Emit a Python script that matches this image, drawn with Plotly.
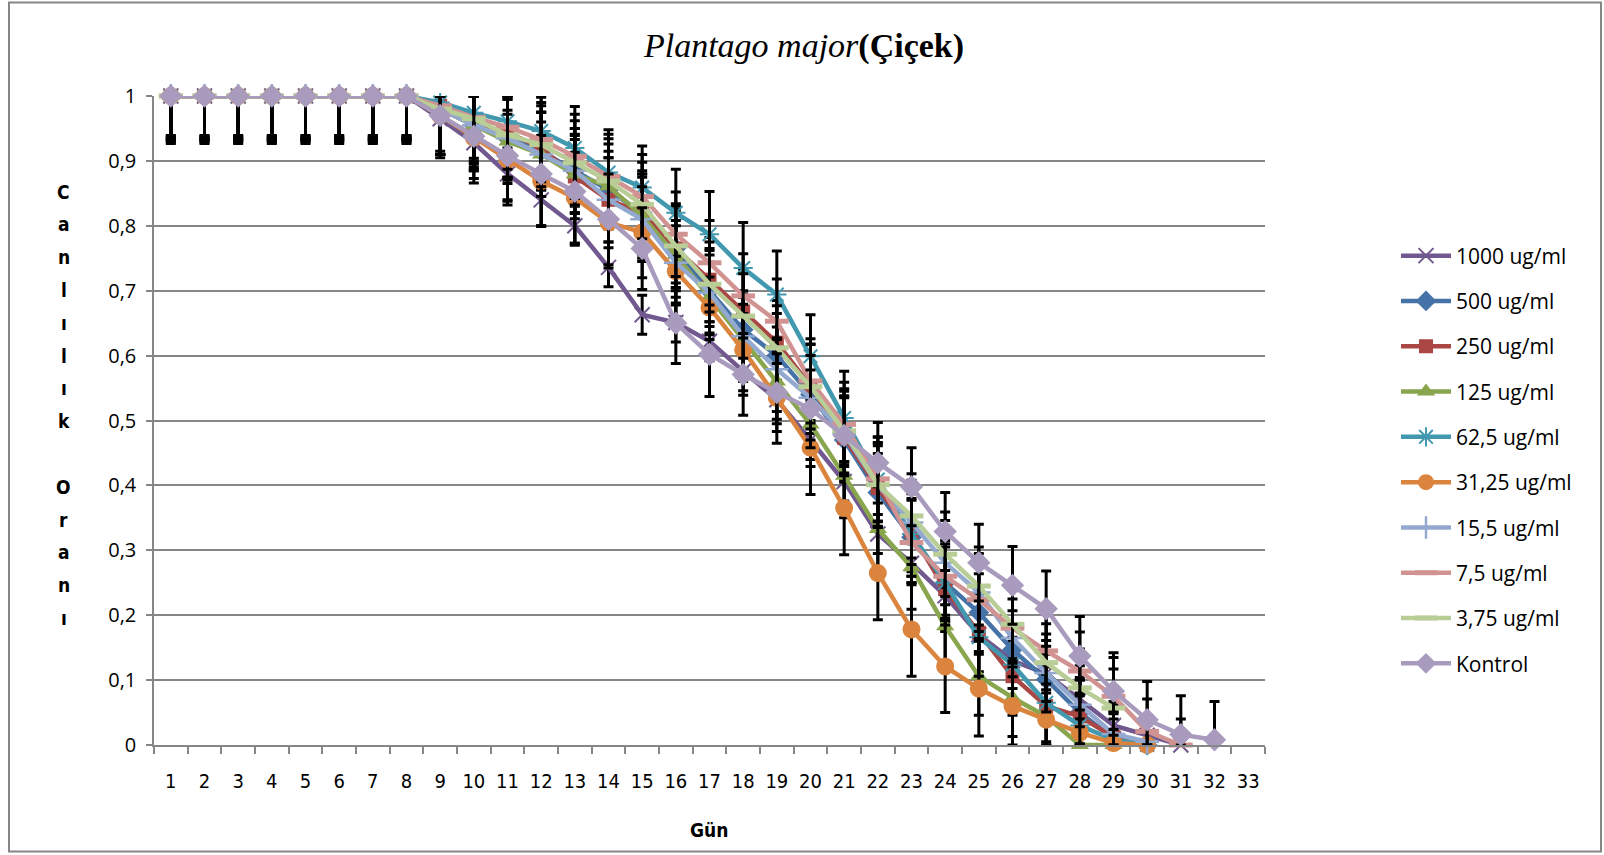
import plotly.graph_objects as go

# ---------------- data ----------------
days = [1, 2, 3, 4, 5, 6, 7, 8, 9, 10, 11, 12, 13, 14, 15, 16, 17, 18, 19, 20,
        21, 22, 23, 24, 25, 26, 27, 28, 29, 30, 31, 32, 33]
x_labels = [str(d) for d in days]

series_names = ["1000 ug/ml", "500 ug/ml", "250 ug/ml", "125 ug/ml", "62,5 ug/ml",
                "31,25 ug/ml", "15,5 ug/ml", "7,5 ug/ml", "3,75 ug/ml", "Kontrol"]

v1000 = [1, 1, 1, 1, 1, 1, 1, 1, 0.965, 0.928, 0.88, 0.84, 0.80, 0.736, 0.663, 0.651,
         0.622, 0.576, 0.532, 0.47, 0.406, 0.325, 0.28, 0.23, 0.17, 0.13, 0.11, 0.07,
         0.03, 0.015, 0.0]
v500 = [1, 1, 1, 1, 1, 1, 1, 1, 0.98, 0.955, 0.935, 0.915, 0.885, 0.855, 0.82, 0.765,
        0.70, 0.64, 0.60, 0.54, 0.47, 0.389, 0.32, 0.25, 0.204, 0.147, 0.101, 0.05,
        0.01, 0.0]
v250 = [1, 1, 1, 1, 1, 1, 1, 1, 0.985, 0.955, 0.944, 0.92, 0.876, 0.84, 0.82, 0.765,
        0.717, 0.668, 0.62, 0.553, 0.473, 0.396, 0.327, 0.24, 0.173, 0.106, 0.06,
        0.044, 0.012, 0.0]
v125 = [1, 1, 1, 1, 1, 1, 1, 1, 0.98, 0.955, 0.93, 0.91, 0.879, 0.861, 0.815, 0.755,
        0.69, 0.625, 0.56, 0.494, 0.415, 0.333, 0.274, 0.183, 0.106, 0.073, 0.044,
        0.0, 0.0]
v62 = [1, 1, 1, 1, 1, 1, 1, 1, 0.99, 0.974, 0.961, 0.946, 0.92, 0.882, 0.859, 0.82,
       0.787, 0.735, 0.694, 0.599, 0.504, 0.409, 0.325, 0.25, 0.166, 0.124, 0.065,
       0.03, 0.008, 0.0]
v31 = [1, 1, 1, 1, 1, 1, 1, 1, 0.97, 0.936, 0.902, 0.869, 0.843, 0.805, 0.79, 0.73,
       0.674, 0.609, 0.535, 0.458, 0.365, 0.265, 0.178, 0.121, 0.087, 0.06, 0.039,
       0.019, 0.003, 0.0]
v15 = [1, 1, 1, 1, 1, 1, 1, 1, 0.98, 0.955, 0.935, 0.91, 0.885, 0.84, 0.81, 0.743,
       0.697, 0.63, 0.579, 0.535, 0.48, 0.40, 0.343, 0.281, 0.235, 0.165, 0.111,
       0.062, 0.017, 0.005]
v7 = [1, 1, 1, 1, 1, 1, 1, 1, 0.985, 0.967, 0.952, 0.933, 0.907, 0.876, 0.845, 0.787,
      0.743, 0.692, 0.653, 0.561, 0.494, 0.41, 0.312, 0.26, 0.224, 0.18, 0.145,
      0.114, 0.075, 0.021, 0.0]
v3 = [1, 1, 1, 1, 1, 1, 1, 1, 0.98, 0.965, 0.94, 0.925, 0.897, 0.869, 0.833, 0.769,
      0.71, 0.661, 0.612, 0.552, 0.484, 0.401, 0.353, 0.294, 0.245, 0.186, 0.127,
      0.088, 0.057]
vK = [1, 1, 1, 1, 1, 1, 1, 1, 0.97, 0.938, 0.908, 0.88, 0.853, 0.81, 0.765, 0.65,
      0.602, 0.571, 0.543, 0.518, 0.477, 0.435, 0.398, 0.329, 0.281, 0.246, 0.21,
      0.137, 0.083, 0.039, 0.016, 0.008]

# standard deviations (error bars)
e1000 = [0.061, 0.061, 0.061, 0.061, 0.061, 0.061, 0.061, 0.061, 0.06, 0.04, 0.04,
         0.04, 0.03, 0.03, 0.03, 0.03, 0.03, 0.03, 0.03, 0.03, 0.03, 0.03, 0.03,
         0.03, 0.03, 0.03, 0.03, 0.03, 0.03, 0.02, 0.02]
e500 = [0.063, 0.063, 0.063, 0.063, 0.063, 0.063, 0.063, 0.063, 0.07, 0.06, 0.06,
        0.06, 0.065, 0.06, 0.065, 0.06, 0.065, 0.06, 0.065, 0.06, 0.065, 0.06, 0.06,
        0.06, 0.06, 0.06, 0.06, 0.05, 0.04, 0.03]
e250 = [0.065, 0.065, 0.065, 0.065, 0.065, 0.065, 0.065, 0.065, 0.075, 0.07, 0.07,
        0.065, 0.065, 0.065, 0.06, 0.065, 0.065, 0.065, 0.065, 0.065, 0.065, 0.065,
        0.06, 0.065, 0.06, 0.06, 0.06, 0.06, 0.05, 0.04]
e125 = [0.067, 0.067, 0.067, 0.067, 0.067, 0.067, 0.067, 0.067, 0.07, 0.07, 0.065,
        0.065, 0.06, 0.065, 0.065, 0.065, 0.065, 0.065, 0.065, 0.065, 0.065, 0.065,
        0.065, 0.06, 0.06, 0.06, 0.05, 0.04, 0.04]
e62 = [0.069, 0.069, 0.069, 0.069, 0.069, 0.069, 0.069, 0.069, 0.075, 0.07, 0.065,
       0.06, 0.064, 0.066, 0.064, 0.067, 0.066, 0.07, 0.067, 0.064, 0.072, 0.065,
       0.065, 0.065, 0.06, 0.06, 0.06, 0.05, 0.04, 0.03]
e31 = [0.071, 0.071, 0.071, 0.071, 0.071, 0.071, 0.071, 0.071, 0.06, 0.07, 0.07,
       0.07, 0.07, 0.07, 0.07, 0.07, 0.07, 0.07, 0.07, 0.072, 0.072, 0.072, 0.072,
       0.071, 0.073, 0.07, 0.07, 0.06, 0.05, 0.04]
e15 = [0.073, 0.073, 0.073, 0.073, 0.073, 0.073, 0.073, 0.073, 0.07, 0.065, 0.065,
       0.065, 0.065, 0.065, 0.065, 0.065, 0.065, 0.065, 0.065, 0.065, 0.065, 0.065,
       0.065, 0.065, 0.06, 0.06, 0.06, 0.06, 0.05, 0.04]
e7 = [0.066, 0.066, 0.066, 0.066, 0.066, 0.066, 0.066, 0.066, 0.075, 0.07, 0.065,
      0.065, 0.065, 0.065, 0.065, 0.065, 0.065, 0.065, 0.065, 0.065, 0.065, 0.065,
      0.065, 0.065, 0.06, 0.06, 0.06, 0.06, 0.06, 0.05, 0.04]
e3 = [0.068, 0.068, 0.068, 0.068, 0.068, 0.068, 0.068, 0.068, 0.07, 0.065, 0.065,
      0.065, 0.065, 0.065, 0.065, 0.065, 0.065, 0.065, 0.065, 0.065, 0.065, 0.065,
      0.065, 0.065, 0.06, 0.06, 0.06, 0.06, 0.06]
eK = [0.062, 0.062, 0.062, 0.062, 0.062, 0.062, 0.062, 0.062, 0.06, 0.065, 0.07,
      0.08, 0.08, 0.07, 0.063, 0.062, 0.065, 0.063, 0.06, 0.06, 0.06, 0.062, 0.06,
      0.06, 0.059, 0.06, 0.058, 0.061, 0.059, 0.059, 0.06, 0.059]

values = [v1000, v500, v250, v125, v62, v31, v15, v7, v3, vK]
errors = [e1000, e500, e250, e125, e62, e31, e15, e7, e3, eK]

colors = ["#71588F", "#4572A7", "#AA4643", "#89A54E", "#4198AF",
          "#DB843D", "#93A9CF", "#D19392", "#B9CD96", "#A99BBD"]
symbols = ["x-thin-open", "diamond", "square", "triangle-up", "asterisk-open",
           "circle", "cross-thin-open", "line-ew-open", "line-ew-open", "diamond"]
sizes = [15, 16, 14, 16, 16, 18, 17, 17, 17, 18]
open_w = [2, 0, 0, 0, 2, 0, 2.5, 5, 5, 0]

GRID = "#868686"

fig = go.Figure()
for name, vals, errs, col, sym, sz, ow in zip(series_names, values, errors, colors,
                                              symbols, sizes, open_w):
    n = len(vals)
    # Excel clips error bars at the plot area (0..1)
    e_plus = [min(e, 1 - v) for v, e in zip(vals, errs)]
    e_minus = [min(e, v) for v, e in zip(vals, errs)]
    fig.add_trace(go.Scatter(
        x=days[:n], y=vals, name=name, mode="lines+markers",
        legendgroup=name,
        line=dict(color=col, width=4.5),
        marker=dict(symbol=sym, size=sz, color=col,
                    line=dict(color=col, width=ow)),
        error_y=dict(type="data", symmetric=False, array=e_plus,
                     arrayminus=e_minus, color="black", thickness=3, width=5),
        cliponaxis=False,
    ))

# y-axis title: letters stacked vertically
ylabel = "Canlılık Oranı"
annotations = []
row = 0
for ch in ylabel:
    if ch != " ":
        annotations.append(dict(
            text="<b>" + ch + "</b>", xref="paper", yref="paper",
            x=(63.5 - 154) / 1111, y=(745.5 - (192 + row * 32.8)) / 649,
            xanchor="center", yanchor="middle", showarrow=False,
            font=dict(family="Liberation Sans Narrow, DejaVu Sans Condensed, Open Sans",
                      size=19, color="black")))
    row += 1

annotations.append(dict(
    text="<b>Gün</b>", xref="paper", yref="paper",
    x=(709 - 154) / 1111, y=(745.5 - 830) / 649, xanchor="center", yanchor="middle",
    showarrow=False,
    font=dict(family="Liberation Sans Narrow, DejaVu Sans Condensed, Open Sans",
              size=19, color="black")))

fig.update_layout(
    width=1604, height=855,
    margin=dict(l=154, r=339, t=96, b=110),
    paper_bgcolor="white", plot_bgcolor="white",
    separators=", ",
    title=dict(text="<i>Plantago major</i><b>(Çiçek)</b>", x=804 / 1604, xanchor="center",
               y=1 - 45 / 855, yanchor="middle",
               font=dict(family="Liberation Serif, Times New Roman, serif", size=34,
                         color="black")),
    showlegend=True,
    legend=dict(x=(1396 - 154) / 1111, xanchor="left", y=(745.5 - 236) / 649,
                yanchor="top", font=dict(family="Open Sans", size=21, color="black"),
                tracegroupgap=15, itemwidth=50, bgcolor="rgba(0,0,0,0)"),
    annotations=annotations,
    shapes=[dict(type="rect", xref="paper", yref="paper",
                 x0=(9 - 154) / 1111, x1=(1601 - 154) / 1111,
                 y0=(745.5 - 852) / 649, y1=(745.5 - 3) / 649,
                 line=dict(color=GRID, width=2))],
)

fig.update_xaxes(
    range=[0.5, 33.5], tickmode="array", tickvals=days, ticktext=x_labels,
    ticks="", showgrid=False, zeroline=False,
    showline=True, linecolor=GRID, linewidth=1.5,
    ticklabelstandoff=17,
    tickfont=dict(family="Liberation Sans Narrow, DejaVu Sans Condensed, Open Sans",
                  size=20, color="black"),
    minor=dict(tick0=0.5, dtick=1, ticks="outside", ticklen=7, tickcolor=GRID,
               tickwidth=1.5, showgrid=False),
)
fig.update_yaxes(
    range=[0, 1], dtick=0.1, tick0=0, showgrid=True, gridcolor=GRID, gridwidth=1.5,
    zeroline=False, showline=True, linecolor=GRID, linewidth=1.5,
    ticks="outside", ticklen=6, tickcolor=GRID, tickwidth=1.5,
    ticklabelstandoff=6,
    tickfont=dict(family="Open Sans", size=20, color="black"),
)

fig.write_html("out.html")
